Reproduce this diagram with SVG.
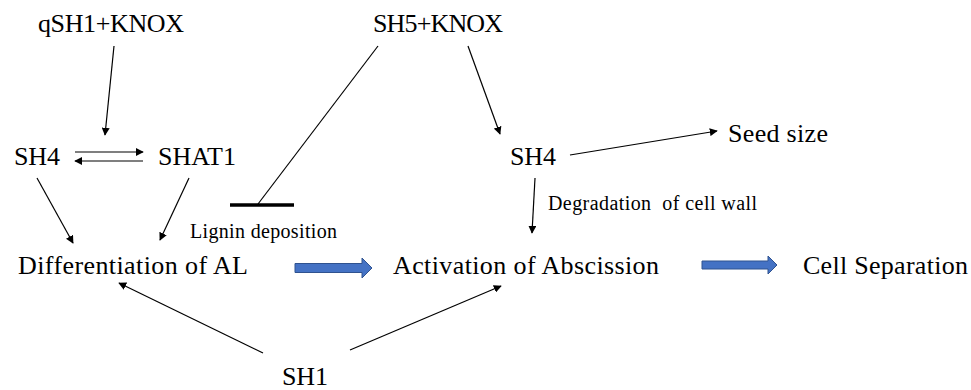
<svg xmlns="http://www.w3.org/2000/svg" width="971" height="390" viewBox="0 0 971 390">
<defs>
<marker id="ah" viewBox="0 0 10 10" refX="9" refY="5" markerWidth="8" markerHeight="8" markerUnits="userSpaceOnUse" orient="auto">
<path d="M0,0 L10,5 L0,10 z" fill="#000"/>
</marker>
</defs>
<style>
text{font-family:'Liberation Serif','Times New Roman','DejaVu Serif',serif;fill:#000}
.t{font-size:26px}
.s{font-size:20px}
.c{stroke:#000;stroke-width:1.2;fill:none;marker-end:url(#ah)}
.b{fill:#4472C4;stroke:#2F528F;stroke-width:1}
</style>
<rect width="971" height="390" fill="#fff"/>
<g id="qsh1knox"><text class="t" x="38" y="32" textLength="146">qSH1+KNOX</text></g>
<g id="sh5knox"><text class="t" x="373" y="32" textLength="130">SH5+KNOX</text></g>
<g id="sh4-left"><text class="t" x="14" y="165" textLength="46">SH4</text></g>
<g id="shat1"><text class="t" x="158" y="165" textLength="78">SHAT1</text></g>
<g id="lignin"><text class="s" x="190" y="238" textLength="147">Lignin deposition</text></g>
<g id="diff"><text class="t" x="18" y="274" textLength="230">Differentiation of AL</text></g>
<g id="activation"><text class="t" x="393" y="274" textLength="266">Activation of Abscission</text></g>
<g id="cellsep"><text class="t" x="803" y="274" textLength="165">Cell Separation</text></g>
<g id="sh4-right"><text class="t" x="510" y="165" textLength="46">SH4</text></g>
<g id="seedsize"><text class="t" x="728" y="142" textLength="100">Seed size</text></g>
<g id="degradation"><text class="s" x="548" y="210" textLength="209" xml:space="preserve">Degradation  of cell wall</text></g>
<g id="sh1"><text class="t" x="282" y="385" textLength="46">SH1</text></g>
<g id="connectors">
<line class="c" x1="114" y1="46" x2="105" y2="135"/>
<line class="c" x1="75" y1="152" x2="143" y2="152"/>
<line class="c" x1="143" y1="161" x2="75" y2="161"/>
<line class="c" x1="37" y1="178" x2="73" y2="243"/>
<line class="c" x1="189" y1="178" x2="160" y2="240"/>
<line x1="378" y1="46" x2="258" y2="204" stroke="#000" stroke-width="1.2"/>
<line x1="230" y1="205" x2="294" y2="205" stroke="#000" stroke-width="3.5"/>
<line class="c" x1="468" y1="46" x2="500" y2="134"/>
<line class="c" x1="570" y1="155" x2="717" y2="131"/>
<line class="c" x1="535" y1="178" x2="532" y2="233"/>
<line class="c" x1="263" y1="353" x2="119" y2="283"/>
<line class="c" x1="350" y1="350" x2="501" y2="286"/>
<path class="b" d="M295,263.5 H362 V258 L372,268 L362,278 V272.5 H295 Z"/>
<path class="b" d="M702,261 H768 V256 L777,265 L768,274 V269 H702 Z"/>
</g>
</svg>
